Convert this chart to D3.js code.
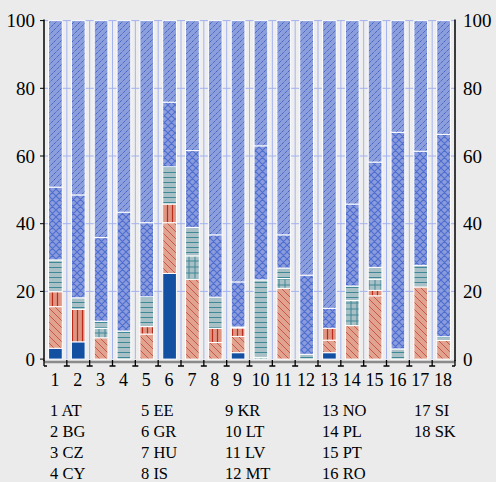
<!DOCTYPE html>
<html><head><meta charset="utf-8">
<script src="https://cdn.jsdelivr.net/npm/d3@7"></script>
<style>html,body{margin:0;padding:0;background:#ebebeb;}svg{display:block;}</style>
</head><body>
<script>
const categories = ["1","2","3","4","5","6","7","8","9","10","11","12","13","14","15","16","17","18"];
const countries = ["AT","BG","CZ","CY","EE","GR","HU","IS","KR","LT","LV","MT","NO","PL","PT","RO","SI","SK"];
const seriesNames = ["dark","salmonDiag","salmonVert","tealGrid","tealH","cross","diag"];
const dark       = [3.2,5.1,0,0,0,25.3,0,0,1.9,0,0,0,1.9,0,0,0,0,0];
const salmonDiag = [12.3,0,6.3,0,7.4,15.0,23.6,4.9,4.8,0,20.9,0,3.7,9.9,18.7,0,21.3,5.5];
const salmonVert = [4.4,9.6,0,0,2.2,5.5,0,4.2,2.5,0,0,0,3.5,0,1.6,0,0,0];
const tealGrid   = [0,0,2.8,0,0,0,6.9,0,0,0.5,2.9,0,0,7.4,3.3,0,0,0];
const tealH      = [9.4,3.4,2.1,8.3,8.8,11.0,8.4,9.2,0.3,22.9,3.1,1.4,0,4.3,3.5,3.0,6.4,1.1];
const cross      = [21.5,30.4,24.7,35.1,21.9,19.1,22.7,18.4,13.3,39.6,9.8,23.4,5.9,24.2,31.1,64.0,33.7,59.8];
const diag       = [49.2,51.5,64.1,56.6,59.7,24.1,38.4,63.3,77.2,37.0,63.3,75.2,85.0,54.2,41.8,33.0,38.6,33.6];
const yTicks = [0,20,40,60,80,100];

const W=496,H=482;
const m={left:44,right:455,top:20.6,bottom:359.1};
const svg=d3.select("body").append("svg").attr("width",W).attr("height",H);
svg.append("rect").attr("width",W).attr("height",H).attr("fill","#ebebeb");
const defs=svg.append("defs");

function pat(id,size,bg,draw){
  const p=defs.append("pattern").attr("id",id).attr("patternUnits","userSpaceOnUse")
    .attr("width",size).attr("height",size);
  p.append("rect").attr("width",size).attr("height",size).attr("fill",bg);
  draw(p,size);
}
pat("p-dark",6,"#1450a2",()=>{});
pat("p-sdiag",7,"#e2a290",(p,s)=>{
  p.append("path").attr("d",`M0,0L${s},${s}M${-s},0L0,${s}M${s},0L${2*s},${s}`)
   .attr("stroke","#c2503e").attr("stroke-width",0.9);
});
pat("p-svert",5,"#e09482",(p,s)=>{
  p.append("path").attr("d",`M2.5,0V${s}`).attr("stroke","#b82c1c").attr("stroke-width",1.2);
});
pat("p-tgrid",6,"#a9c1c6",(p,s)=>{
  p.append("path").attr("d",`M0,3H${s}M3,0V${s}`).attr("stroke","#3f8896").attr("stroke-width",1);
});
pat("p-th",5,"#a9c1c6",(p,s)=>{
  p.append("path").attr("d",`M0,2.5H${s}`).attr("stroke","#3f8896").attr("stroke-width",1);
});
pat("p-cross",7,"#8b9bdc",(p,s)=>{
  p.append("path").attr("d",`M0,0L${s},${s}M${s},0L0,${s}M${-s},0L0,${s}M${s},0L${2*s},${s}M0,${-s}L${s},0M${2*s},0L${s},${s}`)
   .attr("stroke","#4c6ed0").attr("stroke-width",1.1);
});
pat("p-diag",6,"#8c9edc",(p,s)=>{
  p.append("path").attr("d",`M0,${s}L${s},0M${-s},${s}L0,0M${s},${s}L${2*s},0`)
   .attr("stroke","#2a52b8").attr("stroke-width",0.9).attr("stroke-dasharray","1.2,0.8");
});
const fills={dark:"url(#p-dark)",salmonDiag:"url(#p-sdiag)",salmonVert:"url(#p-svert)",
  tealGrid:"url(#p-tgrid)",tealH:"url(#p-th)",cross:"url(#p-cross)",diag:"url(#p-diag)"};

const x=d3.scaleBand().domain(categories).range([m.left,m.right]).paddingInner(0.4).paddingOuter(0.2);
const y=d3.scaleLinear().domain([0,100]).range([m.bottom,m.top]);

svg.append("rect").attr("x",m.left).attr("y",m.top).attr("width",m.right-m.left)
  .attr("height",m.bottom-m.top).attr("fill","#eeeeee");

const gc="#a4b2ee";
const g=svg.append("g");
g.selectAll("line.h").data(yTicks.filter(d=>d>0)).join("line")
  .attr("x1",m.left).attr("x2",m.right).attr("y1",d=>y(d)).attr("y2",d=>y(d))
  .attr("stroke",gc).attr("stroke-width",1);
const gap=x.step()-x.bandwidth();
const bounds=d3.range(1,18).map(i=>x(categories[i])-gap/2);
g.selectAll("line.v").data(bounds).join("line")
  .attr("x1",d=>d).attr("x2",d=>d).attr("y1",m.top).attr("y2",m.bottom)
  .attr("stroke",gc).attr("stroke-width",1);

const rows=categories.map((c,i)=>({cat:c,dark:dark[i],salmonDiag:salmonDiag[i],salmonVert:salmonVert[i],
  tealGrid:tealGrid[i],tealH:tealH[i],cross:cross[i],diag:diag[i]}));
const stack=d3.stack().keys(seriesNames)(rows);
svg.append("g").selectAll("g").data(stack).join("g")
  .attr("fill",d=>fills[d.key])
  .selectAll("rect").data(d=>d.filter(e=>e[1]-e[0]>0.05)).join("rect")
  .attr("x",d=>x(d.data.cat)).attr("width",x.bandwidth())
  .attr("y",d=>y(d[1])).attr("height",d=>y(d[0])-y(d[1]))
  .attr("stroke","#ffffff").attr("stroke-width",1);

const font="'Liberation Serif','Times New Roman',serif";
svg.append("line").attr("x1",m.left).attr("x2",m.left).attr("y1",m.top-1).attr("y2",m.bottom+2)
  .attr("stroke","#000").attr("stroke-width",1.5);
svg.append("line").attr("x1",m.right).attr("x2",m.right).attr("y1",m.top-1).attr("y2",m.bottom+2)
  .attr("stroke","#000").attr("stroke-width",1.5);
svg.append("g").selectAll("line").data(yTicks).join("line")
  .attr("x1",m.left-4).attr("x2",m.left).attr("y1",d=>y(d)).attr("y2",d=>y(d)).attr("stroke","#000");
svg.append("g").selectAll("text").data(yTicks).join("text")
  .attr("x",35).attr("y",d=>y(d)).attr("dy","0.35em").attr("text-anchor","end")
  .attr("font-family",font).attr("font-size",19).attr("fill","#000").text(d=>d);
svg.append("g").selectAll("text").data(yTicks).join("text")
  .attr("x",463).attr("y",d=>y(d)).attr("dy","0.35em").attr("text-anchor","start")
  .attr("font-family",font).attr("font-size",19).attr("fill","#000").text(d=>d);

svg.append("line").attr("x1",m.left).attr("x2",m.right).attr("y1",362).attr("y2",362)
  .attr("stroke","#8a8a8a").attr("stroke-width",2.5);
const xb=[m.left].concat(bounds).concat([m.right]);
svg.append("g").selectAll("path").data(xb).join("path")
  .attr("d",(d,i)=>`M${d},360V366` + (i>0?`M${d-3},366H${d}`:"") + (i<xb.length-1?`M${d},366H${d+3}`:""))
  .attr("stroke","#000").attr("stroke-width",1.3).attr("fill","none");
svg.append("g").selectAll("text").data(categories).join("text")
  .attr("x",d=>x(d)+x.bandwidth()/2-0.5).attr("y",380).attr("dy","0.35em").attr("text-anchor","middle")
  .attr("font-family",font).attr("font-size",18).attr("fill","#000").text(d=>d);

const colX=[50,141,225,322,414];
svg.append("g").selectAll("text").data(countries).join("text")
  .attr("x",(d,i)=>colX[Math.floor(i/4)]).attr("y",(d,i)=>410.5+(i%4)*21).attr("dy","0.35em")
  .attr("font-family",font).attr("font-size",16.5).attr("fill","#000")
  .text((d,i)=>categories[i]+" "+d);
</script>
</body></html>
